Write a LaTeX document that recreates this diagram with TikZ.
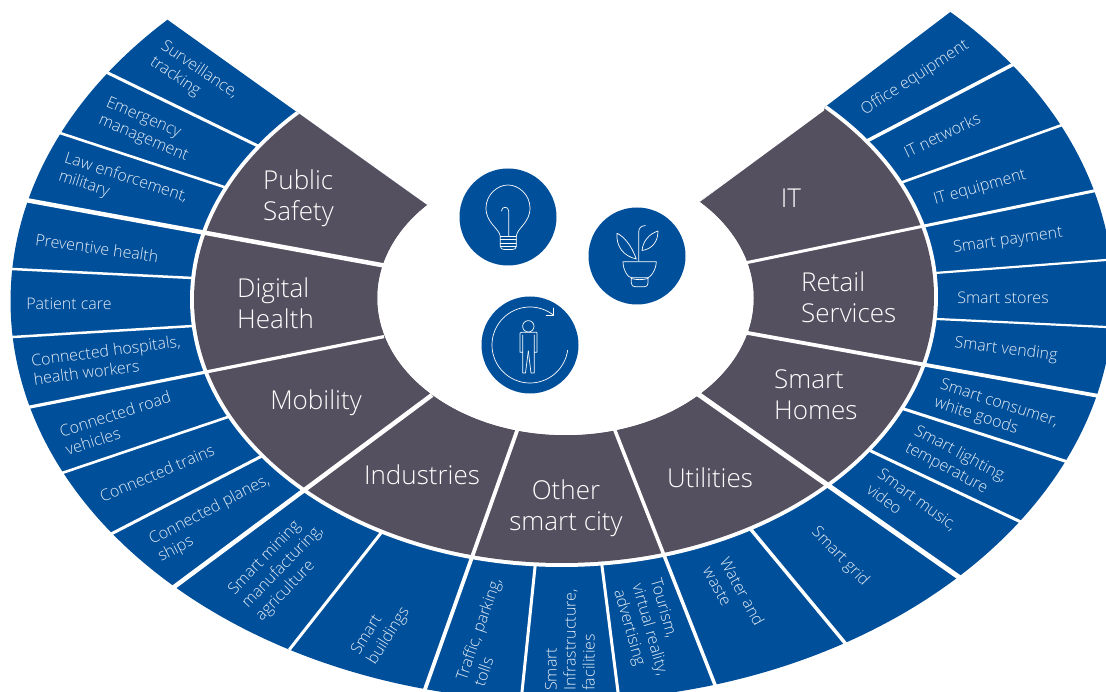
\documentclass[tikz,border=0pt]{standalone}
\usepackage{fontspec}
\setmainfont{Open Sans Light}
\definecolor{fanblue}{HTML}{004F9A}
\definecolor{fangrey}{HTML}{55505F}
\definecolor{bluetext}{HTML}{E4ECF5}
\tikzset{
  sepline/.style={draw=white,line width=#1pt,shorten <=-6pt,shorten >=-6pt},
  thruline/.style={draw=white,line width=#1pt},
  small/.style={text=bluetext,align=left,inner sep=0pt,font=\fontsize{16}{19}\selectfont},
  big/.style={text=white,align=left,inner sep=0pt,font=\fontsize{26}{31}\selectfont},
  icon/.style={draw=white,line width=0.7pt,line join=round,line cap=round},
  disc/.style={fill=fanblue,draw=none}
}
\begin{document}
\begin{tikzpicture}[x=1pt,y=-1pt]
\useasboundingbox (0,0) rectangle (1106,692);
\begin{scope}
\clip (0,0) rectangle (1106,692);
\clip (427,205) -- (100,-28.4) -- (-50,-50) -- (-50,800) -- (1200,800) -- (1200,-50) -- (1015,-37) -- (697,204) -- cycle;
% blue band
\fill[fanblue,rotate around={0.5:(562,299)}] (562,299) ellipse [x radius=551.5pt,y radius=402pt];
% separators within the blue band
\foreach \w/\ax/\ay/\bx/\by in {
 3/108/73/258/146,
 2.6/60/133/224/187,
 2.5/12/269/193/278,
 2.5/13/337/193/326,
 2.6/65/472/228/417,
 3/115/532/260/457,
 3/293/645/381/533,
 3/535/567/522/692,
 3/602/566/618/692,
 3.5/753/532/845/643,
 3/873/452/1023/523,
 3/907/410/1071/463,
 2.2/937/319/1106/327,
 2.2/935/273/1106/260,
 2.6/900/183/1062/125,
 3.5/865/142/1012/65}
 {\draw[sepline=\w] (\ax,\ay) -- (\bx,\by);}
% white gap, grey ring, inner hole
\fill[white,rotate around={0.5:(564,298)}] (564,298) ellipse [x radius=374pt,y radius=269pt];
\fill[fangrey,rotate around={0.5:(564,298)}] (564,298) ellipse [x radius=370pt,y radius=265pt];
\fill[white] (565.5,298) ellipse [x radius=188pt,y radius=137pt];
% separators running through both bands
\foreach \w/\ax/\ay/\bx/\by in {
 4.5/384/265.5/20/199,
 3.2/384/336.6/20/409,
 4.5/432/395/170/590,
 3.8/518/428/424/692,
 3.5/614/428/717/690,
 5/698/394/970/585,
 3.8/745/332.5/1110/398,
 3/743/263.4/1110/187.6}
 {\draw[thruline=\w] (\ax,\ay) -- (\bx,\by);}
% labels in the blue band
\node[small,rotate=-34] (l1) at (194,78) {Surveillance,\\tracking};
\node[small,rotate=-23] (l2) at (147,130) {Emergency\\management};
\node[small,rotate=-18] (l3) at (123,187) {Law enforcement,\\military};
\node[small,rotate=-8] (l4) at (97,248) {Preventive health};
\node[small] (l5) at (69,304) {Patient care};
\node[small,rotate=7.5] (l6) at (107,360) {Connected hospitals,\\health workers};
\node[small,rotate=18] (l7) at (118,423) {Connected road\\vehicles};
\node[small,rotate=23] (l8) at (157,473) {Connected trains};
\node[small,rotate=27.5] (l9) at (214,519) {Connected planes,\\ships};
\node[small,rotate=46] (l10) at (283,567) {Smart mining\\manufacturing,\\agriculture};
\node[small,rotate=58] (l11) at (381,631) {Smart\\buildings};
\node[small,rotate=71] (l12) at (487,632) {Traffic, parking,\\tolls};
\node[small,rotate=90,anchor=west] (l13) at (570,691) {Smart\\Infrastructure,\\facilities};
\node[small,rotate=-74] (l14) at (649,630) {Tourism,\\virtual reality,\\advertising};
\node[small,rotate=-61] (l15) at (734,596) {Water and\\waste};
\node[small,rotate=-46] (l16) at (840,557) {Smart grid};
\node[small,rotate=-36] (l17) at (912,507) {Smart music,\\video};
\node[small,rotate=-28] (l18) at (956,463) {Smart lighting,\\temperature};
\node[small,rotate=-18] (l19) at (996,413) {Smart consumer,\\white goods};
\node[small,rotate=-7] (l20) at (1006,350) {Smart vending};
\node[small] (l21) at (1003,298) {Smart stores};
\node[small,rotate=8] (l22) at (1008,241) {Smart payment};
\node[small,rotate=16] (l23) at (980,188) {IT equipment};
\node[small,rotate=25.5] (l24) at (942,135) {IT networks};
\node[small,rotate=33] (l25) at (915,78) {Office equipment};
% labels in the grey band
\node[big,anchor=west] (g1) at (263,198) {Public\\Safety};
\node[big,anchor=west] (g2) at (237,303) {Digital\\Health};
\node[big] (g3) at (316,403) {Mobility};
\node[big] (g4) at (422,475) {Industries};
\node[big,align=center] (g5) at (566,508) {Other\\smart city};
\node[big] (g6) at (710,478) {Utilities};
\node[big,anchor=west] (g7) at (774,395) {Smart\\Homes};
\node[big,anchor=west] (g8) at (801,297) {Retail\\Services};
\node[big] (g9) at (791,198) {IT};
\end{scope}
% clean edge of the hole between the two tips, and the lower top edge of IT
\fill[white] (565.5,298) ellipse [x radius=188pt,y radius=137pt];
\fill[white] (697,204) -- (824,110.5) -- (824,105) -- cycle;
% light bulb
\fill[disc] (508,217) circle [radius=48.5pt];
\begin{scope}[shift={(508,217)},icon]
\draw (-7.7,19.3) .. controls (-9,11) and (-22,6) .. (-22,-9) .. controls (-22,-22) and (-11,-32) .. (0,-32) .. controls (11,-32) and (22,-22) .. (22,-9) .. controls (22,6) and (9,11) .. (8.3,19.3);
\draw (-7.7,19.3) -- (8.3,19.3);
\draw (-7.7,22.7) -- (8.3,22.7);
\draw (-7.7,26) -- (8.3,26);
\draw (-7.7,29) -- (8.3,29);
\draw (-7.7,19.3) -- (-7.7,29) .. controls (-7.7,31.5) and (-6,32.5) .. (-4,32.5) -- (4.5,32.5) .. controls (6.5,32.5) and (8.3,31.5) .. (8.3,29) -- (8.3,19.3);
\draw (0.7,19.3) -- (0.7,-6) .. controls (0.7,-11) and (-6.5,-11) .. (-6.5,-6);
\end{scope}
% plant
\fill[disc] (637,256) circle [radius=48.5pt];
\begin{scope}[shift={(637,256)},icon]
\draw (1.7,5) -- (1.7,-24) .. controls (1.7,-28) and (4,-30) .. (8.3,-30.5);
\draw (-0.7,3) .. controls (-6,-12) and (-14,-20) .. (-20,-22.7) .. controls (-21,-10) and (-14,0) .. (-0.7,3);
\draw (5,-5.5) .. controls (6,-15) and (12,-22) .. (21,-25) .. controls (21,-14) and (15,-7) .. (5,-5.5);
\draw (-14,5.7) -- (19.3,5.7) .. controls (19.3,14) and (13,21.7) .. (11,21.7) -- (-5.7,21.7) .. controls (-9,21.7) and (-14,14) .. (-14,5.7);
\draw (-5.7,21.7) -- (-5.7,27) .. controls (-5.7,29.5) and (-4,30.7) .. (-2,30.7) -- (7.5,30.7) .. controls (9.5,30.7) and (11,29.5) .. (11,27) -- (11,21.7);
\draw (-5.7,22.5) .. controls (-1,24) and (6,24) .. (11,22.5);
\end{scope}
% person
\fill[disc] (530,345) circle [radius=48.5pt];
\begin{scope}[shift={(530,345)},icon]
\draw plot[domain=-8:-308,samples=80] ({38*cos(\x)},{-38*sin(\x)});
\draw (23.7,-37) -- (23.7,-29.3) -- (16.3,-29.3);
\draw (-1.7,-18.7) circle [radius=5.7pt];
\draw (-8.7,-12.7) -- (6.7,-12.7) .. controls (7.7,-12.7) and (7,-12.7) .. (7,-11.7) -- (7,7.3) -- (4.3,7.3) -- (4.3,-10) (4.3,7.3) -- (4.3,28) -- (1,28) -- (-1.7,6);
\draw (-8.7,-12.7) -- (-10,-11.7) -- (-10,7.3) -- (-7.3,7.3) -- (-7.3,-10) (-7.3,7.3) -- (-7.3,28) -- (-4.5,28) -- (-1.7,6);
\end{scope}
\end{tikzpicture}
\end{document}
